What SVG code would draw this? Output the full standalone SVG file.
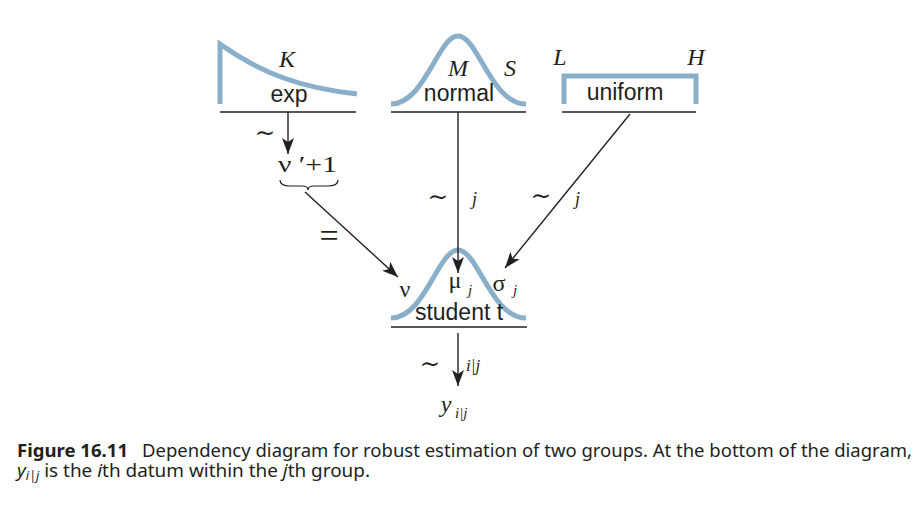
<svg xmlns="http://www.w3.org/2000/svg" width="922" height="518" viewBox="0 0 922 518">
<style>
.dist{fill:none;stroke:#8aafca;stroke-width:5;stroke-linejoin:miter}
.base{stroke:#231f20;stroke-width:1.5}
.edge{stroke:#231f20;stroke-width:1.4;fill:none}
.lbl{font-family:"Liberation Sans",Arial,sans-serif;font-size:23px;fill:#231f20;text-anchor:middle}
.m{font-family:"Liberation Serif","Times New Roman",serif;font-size:24px;fill:#231f20}
.mi{font-family:"Liberation Serif","Times New Roman",serif;font-style:italic;font-size:24px;fill:#231f20}
.sub{font-family:"Liberation Serif","Times New Roman",serif;font-style:italic;font-size:15px;fill:#231f20}
.tl{font-family:"DejaVu Serif","Liberation Serif",serif;font-size:25px;fill:#231f20;text-anchor:middle}
.cap{font-family:"Noto Sans","Open Sans",sans-serif;font-size:18px;fill:#231f20}
</style>
<defs>
<marker id="ah" markerUnits="userSpaceOnUse" markerWidth="18" markerHeight="14" refX="16" refY="6" orient="auto">
<path d="M0,0 L16,6 L0,12 L4,6 z" fill="#231f20"/>
</marker>
</defs>

<g id="node-exp">
<path class="dist" d="M220,104 L220,44 C262,74 302,88 357,94"/>
<line class="base" x1="220" y1="112" x2="356" y2="112"/>
<text class="mi" x="287" y="67" text-anchor="middle">K</text>
<text class="lbl" x="289" y="102">exp</text>
</g>

<g id="node-normal">
<path class="dist" d="M391,104 C425,104 438,36 458,36 C478,36 491,104 526,104"/>
<line class="base" x1="391" y1="112" x2="526" y2="112"/>
<text class="mi" x="458" y="76" text-anchor="middle">M</text>
<text class="mi" x="510" y="76" text-anchor="middle">S</text>
<text class="lbl" x="459" y="101">normal</text>
</g>

<g id="node-uniform">
<path class="dist" d="M564,104 L564,76 L696,76 L696,104"/>
<line class="base" x1="562" y1="112" x2="696" y2="112"/>
<text class="mi" x="560" y="65" text-anchor="middle">L</text>
<text class="mi" x="696" y="65" text-anchor="middle">H</text>
<text class="lbl" x="625" y="100">uniform</text>
</g>

<g id="node-nu">
<text class="m" x="278" y="172" textLength="59" lengthAdjust="spacingAndGlyphs">ν ′+1</text>
<path d="M280,180 Q280,186 290,186 L302,186 Q308,186 308,190 Q308,186 314,186 L328,186 Q338,186 338,180" fill="none" stroke="#231f20" stroke-width="1.2"/>
</g>

<g id="node-student">
<path class="dist" d="M391,318 C425,318 438,250 458,250 C478,250 491,318 526,318"/>
<line class="base" x1="391" y1="327" x2="527" y2="327"/>
<text class="m" x="405" y="297" text-anchor="middle">ν</text>
<text class="m" x="455" y="288" text-anchor="middle">μ</text>
<text class="sub" x="468" y="295">j</text>
<text class="m" x="499" y="291" text-anchor="middle">σ</text>
<text class="sub" x="513" y="295">j</text>
<text class="lbl" x="459" y="320">student t</text>
</g>

<g id="node-y">
<text class="mi" x="446" y="412" text-anchor="middle">y</text>
<text class="sub" x="455" y="418">i|j</text>
</g>

<g id="connectors">
<line class="edge" x1="288" y1="112" x2="288" y2="154" marker-end="url(#ah)"/>
<text class="tl" x="265" y="141">∼</text>
<line class="edge" x1="305" y1="192" x2="398" y2="277" marker-end="url(#ah)"/>
<text class="m" x="329" y="247" text-anchor="middle" style="font-size:34px">=</text>
<line class="edge" x1="458" y1="112" x2="458" y2="273" marker-end="url(#ah)"/>
<text class="tl" x="438" y="205">∼</text>
<text class="sub" x="472" y="205" style="font-size:18px">j</text>
<line class="edge" x1="630" y1="114" x2="505" y2="268" marker-end="url(#ah)"/>
<text class="tl" x="541" y="204">∼</text>
<text class="sub" x="575" y="205" style="font-size:18px">j</text>
<line class="edge" x1="458" y1="333" x2="458" y2="386" marker-end="url(#ah)"/>
<text class="tl" x="430" y="372">∼</text>
<text class="sub" x="466" y="371" style="font-size:17px">i|j</text>
</g>

<g id="caption">
<text class="cap" x="17" y="457" font-weight="bold" textLength="111" lengthAdjust="spacingAndGlyphs">Figure 16.11</text>
<text class="cap" x="142" y="457" textLength="770" lengthAdjust="spacingAndGlyphs">Dependency diagram for robust estimation of two groups. At the bottom of the diagram,</text>
<text class="cap" x="17" y="477" textLength="353" lengthAdjust="spacingAndGlyphs"><tspan font-style="italic">y</tspan><tspan font-style="italic" font-size="12" dy="3">i|j</tspan><tspan dy="-3"> is the </tspan><tspan font-style="italic">i</tspan><tspan>th datum within the </tspan><tspan font-style="italic">j</tspan><tspan>th group.</tspan></text>
</g>
</svg>
